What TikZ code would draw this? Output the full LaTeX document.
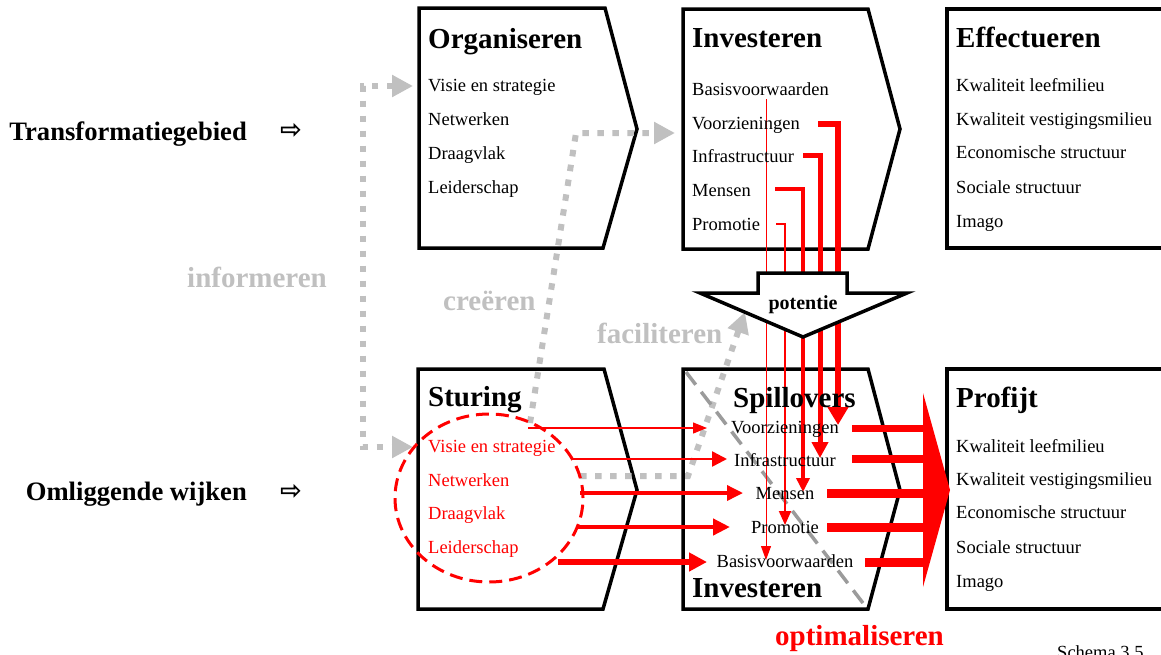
\documentclass[tikz,border=0pt]{standalone}
\usepackage{fontspec}
\setmainfont{Liberation Serif}
\newfontfamily\pijlfont{DejaVu Sans}
\usetikzlibrary{arrows.meta}

\definecolor{lichtgrijs}{RGB}{192,192,192}
\definecolor{donkergrijs}{RGB}{155,155,155}
\definecolor{rood}{RGB}{255,0,0}

\tikzset{
  blok/.style={line width=3.5pt,line join=miter},
  kop/.style={inner sep=0pt,anchor=base west,font=\fontsize{29}{29}\selectfont\bfseries},
  item/.style={inner sep=0pt,anchor=base west,font=\fontsize{18.5}{18.5}\selectfont},
  actie/.style={inner sep=0pt,anchor=base west,font=\fontsize{29}{29}\selectfont\bfseries},
  gebied/.style={inner sep=0pt,anchor=base east,font=\fontsize{26.6}{26.6}\selectfont\bfseries},
  stippel/.style={lichtgrijs,line width=6pt,dash pattern=on 6.5pt off 8.5pt},
  grijspijl/.style={-{Triangle[length=21pt,width=21pt]}},
  roodlijn/.style={rood,line join=miter},
}

\begin{document}
\begin{tikzpicture}[x=1pt,y=-1pt]
\useasboundingbox (0,0) rectangle (1161,654);

% de zes blokken
\draw[blok] (419,8) -- (605,8) -- (637,129) -- (603,248) -- (419,248) -- cycle;
\draw[blok] (683,9) -- (868,9) -- (900,129) -- (868,249) -- (683,249) -- cycle;
\draw[blok] (1175,9) -- (947,9) -- (947,248) -- (1175,248);
\draw[blok] (418,369) -- (604,369) -- (637,490) -- (603,609) -- (418,609) -- cycle;
\draw[blok] (683,369) -- (868,369) -- (900,490) -- (868,609) -- (683,609) -- cycle;
\draw[blok] (1175,369) -- (947,369) -- (947,609) -- (1175,609);

\coordinate (orgIn) at (413,86);
\coordinate (stuIn) at (413,447);
\coordinate (creStart) at (530,423);
\coordinate (creKnik) at (576,133);
\coordinate (invIn) at (675,133);
\coordinate (facStart) at (580,476);
\coordinate (facKnik) at (688,476);
\coordinate (potIn) at (745,312);

% grijze stippellijnen
\draw[stippel,{Triangle[length=21pt,width=21pt]}-{Triangle[length=21pt,width=21pt]}]
  (orgIn) -- ++(-50,0) |- (stuIn);
\draw[stippel,grijspijl] (creStart) -- (creKnik) -- (invIn);
\draw[stippel,grijspijl] (facStart) -- (facKnik) -- (potIn);
\draw[donkergrijs,line width=3.5pt,dash pattern=on 16pt off 9pt] (686,372) -- (866,607);

% investeringen naar spillovers
\coordinate (vV) at (818,124);
\coordinate (vI) at (803,155);
\coordinate (vM) at (775,189);
\coordinate (vP) at (776,224);
\coordinate (vB) at (766,99);
\coordinate (sV) at (838,425);
\coordinate (sI) at (820,458);
\coordinate (sM) at (803,492);
\coordinate (sP) at (785,525);
\coordinate (sB) at (766,560);
\draw[roodlijn,line width=6.5pt,-{Triangle[length=18pt,width=20pt]}] (vV) -| (sV);
\draw[roodlijn,line width=5pt,-{Triangle[length=16pt,width=16pt]}] (vI) -| (sI);
\draw[roodlijn,line width=3.5pt,-{Triangle[length=14pt,width=13pt]}] (vM) -| (sM);
\draw[roodlijn,line width=2pt,-{Triangle[length=14pt,width=12pt]}] (vP) -| (sP);
\draw[roodlijn,line width=1pt,-{Triangle[length=14pt,width=10pt]}] (vB) -- (sB);

% potentie
\draw[blok,fill=white] (758,273) -- (847,273) -- (847,293) -- (907,293) -- (803,337)
  -- (700,293) -- (758,293) -- cycle;
\node[inner sep=0pt,anchor=base,font=\fontsize{20}{20}\selectfont\bfseries] (pot) at (803,309) {potentie};

% sturing naar spillovers
\coordinate (h1) at (528,428);
\coordinate (h1e) at (707,428);
\coordinate (h2) at (572,459);
\coordinate (h2e) at (727,459);
\coordinate (h3) at (580,493);
\coordinate (h3e) at (743,493);
\coordinate (h4) at (578,527);
\coordinate (h4e) at (730,527);
\coordinate (h5) at (558,562);
\coordinate (h5e) at (707,562);
\draw[roodlijn,line width=1.2pt,-{Triangle[length=14pt,width=11pt]}] (h1) -- (h1e);
\draw[roodlijn,line width=2.5pt,-{Triangle[length=15pt,width=15pt]}] (h2) -- (h2e);
\draw[roodlijn,line width=3.5pt,-{Triangle[length=16pt,width=15pt]}] (h3) -- (h3e);
\draw[roodlijn,line width=4.5pt,-{Triangle[length=17pt,width=16pt]}] (h4) -- (h4e);
\draw[roodlijn,line width=6pt,-{Triangle[length=18pt,width=18pt]}] (h5) -- (h5e);

% spillovers naar profijt
\coordinate (pijlIn) at (925,490);
\draw[roodlijn,line width=7pt] (852,428) -- (pijlIn |- 0,428);
\draw[roodlijn,line width=8pt] (852,459) -- (pijlIn |- 0,459);
\draw[roodlijn,line width=9pt] (827,493) -- (pijlIn |- 0,493);
\draw[roodlijn,line width=9pt] (827,527) -- (pijlIn |- 0,527);
\draw[roodlijn,line width=9pt] (865,562) -- (pijlIn |- 0,562);
\fill[rood] (923,393) -- (950,490) -- (923,587) -- cycle;

\draw[rood,line width=3pt,dash pattern=on 13pt off 7pt] (489,498) ellipse [x radius=94pt,y radius=84pt];

% teksten
\node[gebied] (trans) at (247,140) {Transformatiegebied};
\node[gebied] (omlig) at (247,500) {Omliggende wijken};
\node[font=\pijlfont\bfseries\fontsize{26}{26}\selectfont,inner sep=0pt] (transpijl) at (291,131) {⇨};
\node[font=\pijlfont\bfseries\fontsize{26}{26}\selectfont,inner sep=0pt] (omligpijl) at (291,492) {⇨};

\node[kop] (org) at (428,48) {Organiseren};
\node[item] (org1) at (428,91) {Visie en strategie};
\node[item] (org2) at (428,125) {Netwerken};
\node[item] (org3) at (428,159) {Draagvlak};
\node[item] (org4) at (428,193) {Leiderschap};

\node[kop] (inv) at (692,47) {Investeren};
\node[item] (inv1) at (692,95) {Basisvoorwaarden};
\node[item] (inv2) at (692,129) {Voorzieningen};
\node[item] (inv3) at (692,162) {Infrastructuur};
\node[item] (inv4) at (692,196) {Mensen};
\node[item] (inv5) at (692,230) {Promotie};

\node[kop] (eff) at (956,47) {Effectueren};
\node[item] (eff1) at (956,91) {Kwaliteit leefmilieu};
\node[item] (eff2) at (956,125) {Kwaliteit vestigingsmilieu};
\node[item] (eff3) at (956,158) {Economische structuur};
\node[item] (eff4) at (956,193) {Sociale structuur};
\node[item] (eff5) at (956,227) {Imago};

\node[kop] (stu) at (428,406) {Sturing};
\node[item,text=rood] (stu1) at (428,452) {Visie en strategie};
\node[item,text=rood] (stu2) at (428,486) {Netwerken};
\node[item,text=rood] (stu3) at (428,519) {Draagvlak};
\node[item,text=rood] (stu4) at (428,553) {Leiderschap};

\node[kop] (spi) at (733,407) {Spillovers};
\node[item,anchor=base] (spi1) at (785,433) {Voorzieningen};
\node[item,anchor=base] (spi2) at (785,466) {Infrastructuur};
\node[item,anchor=base] (spi3) at (785,499) {Mensen};
\node[item,anchor=base] (spi4) at (785,533) {Promotie};
\node[item,anchor=base] (spi5) at (785,567) {Basisvoorwaarden};
\node[kop] (inv0) at (692,597) {Investeren};

\node[kop] (pro) at (956,407) {Profijt};
\node[item] (pro1) at (956,452) {Kwaliteit leefmilieu};
\node[item] (pro2) at (956,485) {Kwaliteit vestigingsmilieu};
\node[item] (pro3) at (956,518) {Economische structuur};
\node[item] (pro4) at (956,553) {Sociale structuur};
\node[item] (pro5) at (956,587) {Imago};

\node[actie,text=lichtgrijs] (inf) at (187,287) {informeren};
\node[actie,text=lichtgrijs] (cre) at (443,310) {creëren};
\node[actie,text=lichtgrijs] (fac) at (597,343) {faciliteren};
\node[actie,text=rood] (opt) at (775,645) {optimaliseren};
\node[item] (schema) at (1057,658) {Schema 3.5};
\end{tikzpicture}
\end{document}
